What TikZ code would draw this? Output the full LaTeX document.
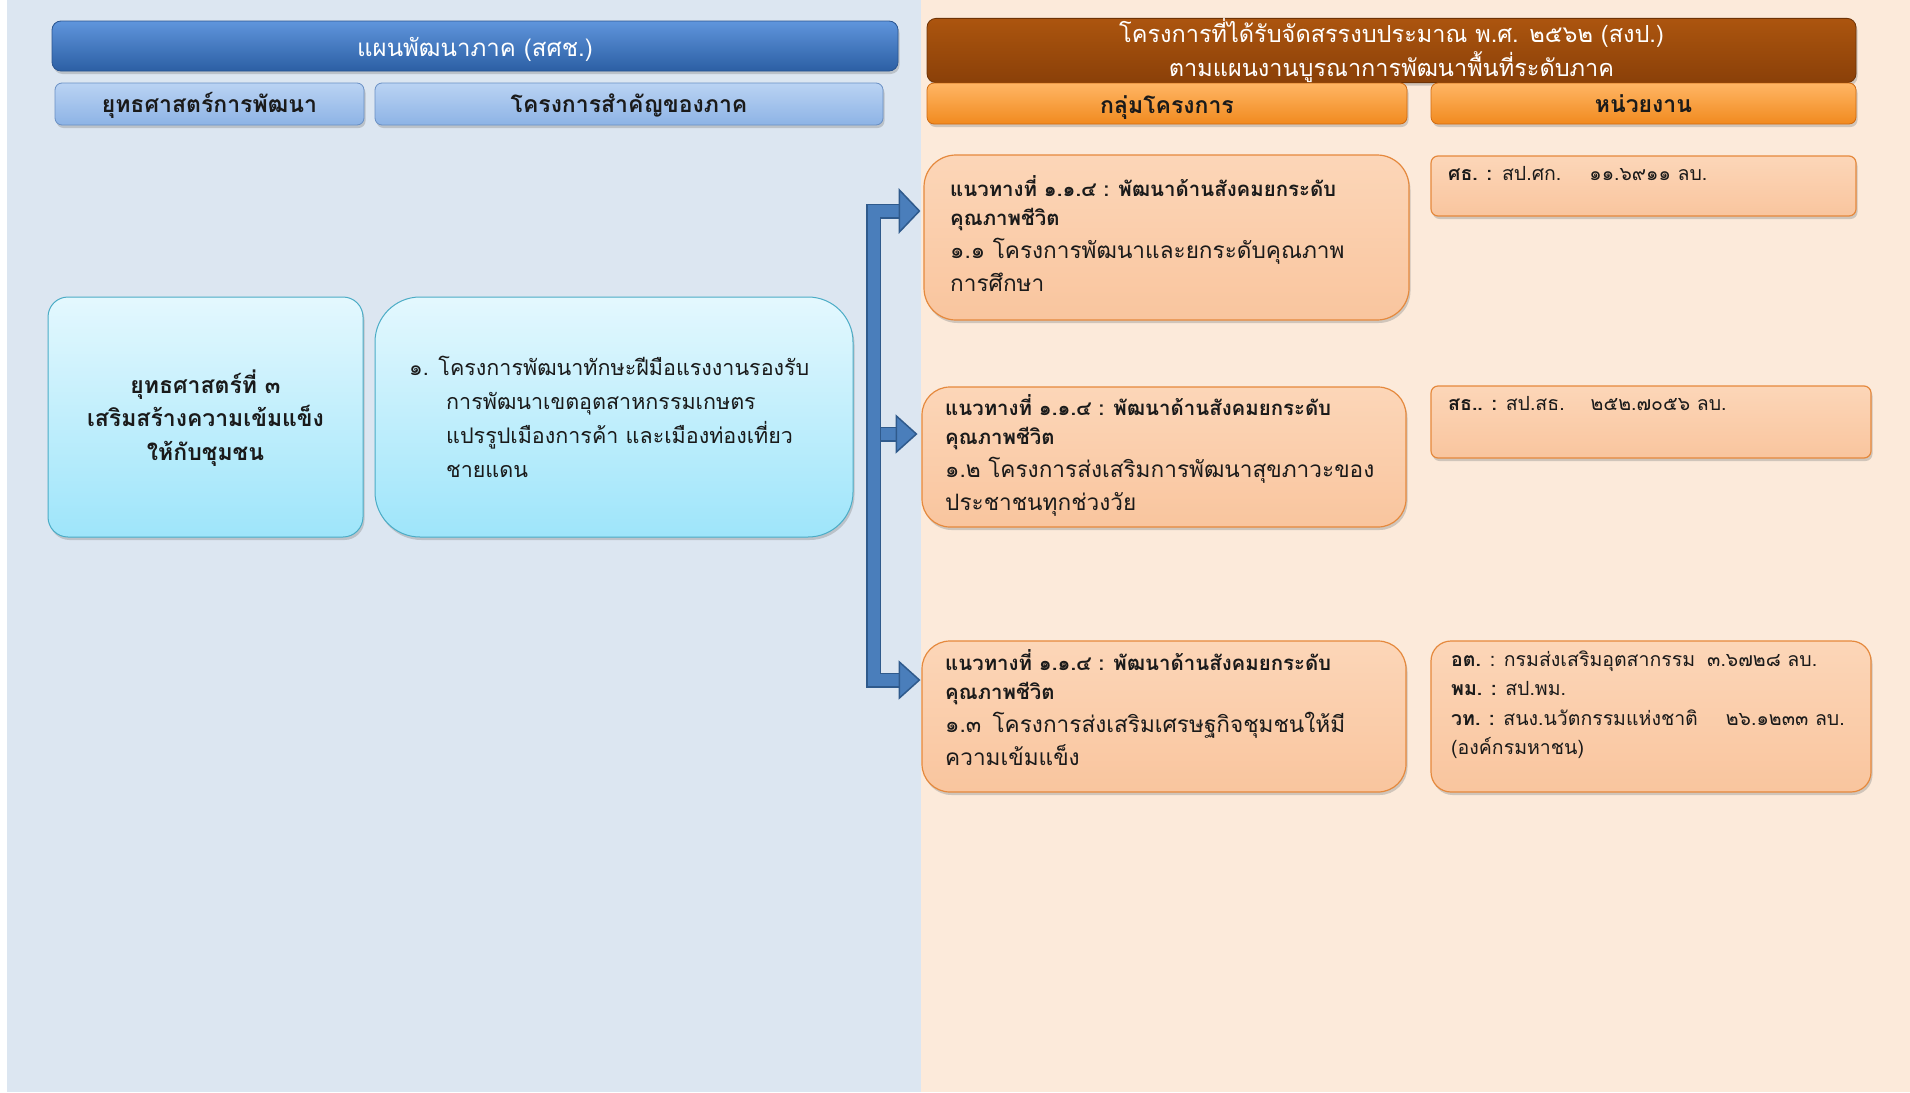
\documentclass[tikz,border=0pt]{standalone}
\usepackage{fontspec}
\setmainfont{Loma}[Script=Thai]
\usetikzlibrary{shadows,calc}
\definecolor{leftbg}{HTML}{DCE6F1}
\definecolor{rightbg}{HTML}{FCEADA}
\definecolor{hdrbluetop}{HTML}{5F95DC}
\definecolor{hdrbluebot}{HTML}{2C5FA4}
\definecolor{hdrblueline}{HTML}{2A5590}
\definecolor{subbluetop}{HTML}{BAD3F3}
\definecolor{subbluebot}{HTML}{8DB3E5}
\definecolor{subblueline}{HTML}{6A90C4}
\definecolor{cyantop}{HTML}{E4F8FE}
\definecolor{cyanbot}{HTML}{9EE5FA}
\definecolor{cyanline}{HTML}{4BACC6}
\definecolor{browntop}{HTML}{AC550F}
\definecolor{brownbot}{HTML}{8A4008}
\definecolor{brownline}{HTML}{6E3306}
\definecolor{orgtop}{HTML}{FFB665}
\definecolor{orgbot}{HTML}{F18A1F}
\definecolor{orgline}{HTML}{D06A10}
\definecolor{peachtop}{HTML}{FCD6B8}
\definecolor{peachbot}{HTML}{F9C59E}
\definecolor{peachline}{HTML}{E5893D}
\definecolor{arrowfill}{HTML}{4A7EBB}
\definecolor{arrowline}{HTML}{2F5A8C}
\definecolor{ink}{HTML}{1A1A1A}
\tikzset{
  shad/.style={drop shadow={opacity=0.35,shadow xshift=1.5pt,shadow yshift=-3pt}},
  hdrblue/.style={shad,draw=hdrblueline,line width=0.8pt,top color=hdrbluetop,bottom color=hdrbluebot,
     rounded corners=9pt,text=white,font=\fontsize{24}{28}\selectfont,inner sep=0pt},
  subblue/.style={shad,draw=subblueline,line width=0.8pt,top color=subbluetop,bottom color=subbluebot,
     rounded corners=7pt,text=ink,font=\bfseries\fontsize{23}{26}\selectfont,inner sep=0pt},
  hdrbrown/.style={shad,draw=brownline,line width=0.8pt,top color=browntop,bottom color=brownbot,
     rounded corners=9pt,text=white,font=\fontsize{23.5}{34}\selectfont,inner sep=0pt,align=center},
  suborg/.style={shad,draw=orgline,line width=0.8pt,top color=orgtop,bottom color=orgbot,
     rounded corners=7pt,text=ink,font=\bfseries\fontsize{23}{26}\selectfont,inner sep=0pt},
  cyanbox/.style={shad,draw=cyanline,line width=1pt,top color=cyantop,bottom color=cyanbot,inner sep=0pt},
  peachbox/.style={shad,draw=peachline,line width=1.2pt,top color=peachtop,bottom color=peachbot,inner sep=0pt},
  txt/.style={anchor=base west,inner sep=0pt,text=ink},
  shaft/.style={draw=arrowline,line width=1.5pt,double=arrowfill,double distance=12pt},
  head/.style={fill=arrowfill,draw=arrowline,line width=1.5pt,line join=miter},
}
\newcommand{\bodyfont}{\mdseries\fontsize{22.6}{33}\selectfont}
\newcommand{\leadfont}{\bfseries\fontsize{20.4}{29}\selectfont}
\newcommand{\unitfont}{\fontsize{19.5}{29.5}\selectfont}
\newcommand{\lowerby}[2]{\raisebox{-#1}[\height][\depth]{#2}}
\begin{document}
\begin{tikzpicture}[x=1pt,y=-1pt]
\useasboundingbox (0,0) rectangle (1910,1092);
\fill[white] (0,0) rectangle (1910,1092);
\fill[leftbg] (7,0) rectangle (921,1092);
\fill[rightbg] (921,0) rectangle (1910,1092);

% left headers
\node[hdrblue,minimum width=846pt,minimum height=50pt] (hL) at (475,46) {\lowerby{3pt}{แผนพัฒนาภาค (สศช.)}};
\node[subblue,minimum width=309pt,minimum height=42pt] (sL1) at (209.5,104) {\lowerby{1pt}{ยุทธศาสตร์การพัฒนา}};
\node[subblue,minimum width=508pt,minimum height=42pt] (sL2) at (629,104) {\lowerby{1pt}{โครงการสำคัญของภาค}};

% right headers
\node[hdrbrown,minimum width=929pt,minimum height=59pt] (hR) at (1391.5,50.5)
  {โครงการที่ได้รับจัดสรรงบประมาณ พ.ศ. ๒๕๖๒ (สงป.)\\ตามแผนงานบูรณาการพัฒนาพื้นที่ระดับภาค};
\node[suborg,minimum width=480pt,minimum height=41pt] (sR1) at (1167,103.5) {\lowerby{4pt}{กลุ่มโครงการ}};
\node[suborg,minimum width=425pt,minimum height=41pt] (sR2) at (1643.5,103.5) {หน่วยงาน};

% left boxes
\node[cyanbox,rounded corners=20pt,minimum width=315pt,minimum height=240pt] (c1) at (205.5,417) {};
\node[cyanbox,rounded corners=45pt,minimum width=478pt,minimum height=240pt] (c2) at (614,417) {};
\node[anchor=base,inner sep=0pt,text=ink] (c1t) at (205.5,393)
  {\begin{minipage}[t]{300pt}\centering\bfseries\fontsize{23}{33.5}\selectfont
   ยุทธศาสตร์ที่ ๓\\เสริมสร้างความเข้มแข็ง\\ให้กับชุมชน\end{minipage}};
\node[txt] (c2t) at (409,375)
  {\begin{minipage}[t]{440pt}\fontsize{21.5}{34}\selectfont\hangindent=37pt\hangafter=1
   ๑. โครงการพัฒนาทักษะฝีมือแรงงานรองรับ\\การพัฒนาเขตอุตสาหกรรมเกษตร\\แปรรูปเมืองการค้า และเมืองท่องเที่ยว\\ชายแดน\end{minipage}};

% right project boxes
\node[peachbox,rounded corners=32pt,minimum width=485pt,minimum height=165pt] (bA) at (1166.5,237.5) {};
\node[peachbox,rounded corners=28pt,minimum width=484pt,minimum height=140pt] (bB) at (1164,457) {};
\node[peachbox,rounded corners=28pt,minimum width=484pt,minimum height=151pt] (bC) at (1164,716.5) {};
\node[txt] (tA) at (950,196)
  {\begin{minipage}[t]{460pt}\leadfont แนวทางที่ ๑.๑.๔ : พัฒนาด้านสังคมยกระดับ\\คุณภาพชีวิต\par
   \bodyfont ๑.๑ โครงการพัฒนาและยกระดับคุณภาพ\\การศึกษา\end{minipage}};
\node[txt] (tB) at (945,415)
  {\begin{minipage}[t]{460pt}\leadfont แนวทางที่ ๑.๑.๔ : พัฒนาด้านสังคมยกระดับ\\คุณภาพชีวิต\par
   \bodyfont ๑.๒ โครงการส่งเสริมการพัฒนาสุขภาวะของ\\ประชาชนทุกช่วงวัย\end{minipage}};
\node[txt] (tC) at (945,670)
  {\begin{minipage}[t]{460pt}\leadfont แนวทางที่ ๑.๑.๔ : พัฒนาด้านสังคมยกระดับ\\คุณภาพชีวิต\par
   \bodyfont ๑.๓\enspace โครงการส่งเสริมเศรษฐกิจชุมชนให้มี\\ความเข้มแข็ง\end{minipage}};

% unit boxes
\node[peachbox,rounded corners=7pt,minimum width=425pt,minimum height=60pt] (uA) at (1643.5,186) {};
\node[peachbox,rounded corners=7pt,minimum width=440pt,minimum height=72pt] (uB) at (1651,422) {};
\node[peachbox,rounded corners=20pt,minimum width=440pt,minimum height=151pt] (uC) at (1651,716.5) {};
\node[txt,font=\unitfont] (uAt) at (1448,180) {\textbf{ศธ. :}\hspace{10pt}สป.ศก.\hspace{28pt}๑๑.๖๙๑๑ ลบ.};
\node[txt,font=\unitfont] (uBt) at (1448,410) {\textbf{สธ.. :} สป.สธ.\hspace{26pt}๒๕๒.๗๐๕๖ ลบ.};
\node[txt] (uCt) at (1451,666)
  {\begin{minipage}[t]{430pt}\unitfont \textbf{อต.} : กรมส่งเสริมอุตสากรรม\hspace{12pt}๓.๖๗๒๘ ลบ.\\
   \textbf{พม. :} สป.พม.\\
   \textbf{วท. :} สนง.นวัตกรรมแห่งชาติ\hspace{28pt}๒๖.๑๒๓๓ ลบ.\\
   (องค์กรมหาชน)\end{minipage}};

% bracket arrow
\coordinate (pA) at ($(bA.west |- 0,211)+(-4,0)$);
\coordinate (pB) at ($(bB.west |- 0,434)+(-5,0)$);
\coordinate (pC) at ($(bC.west |- 0,680)+(-2,0)$);
\coordinate (sp) at (873.5,211);
\draw[shaft] (sp |- pB) -- ($(pB)+(-18,0)$);
\draw[shaft,line join=miter] ($(pA)+(-18,0)$) -- (sp) -- (sp |- pC) -- ($(pC)+(-18,0)$);
\draw[head] (pA) -- ++(-20,-21) -- ++(0,42) -- cycle;
\draw[head] (pB) -- ++(-20,-18) -- ++(0,36) -- cycle;
\draw[head] (pC) -- ++(-20,-18) -- ++(0,36) -- cycle;
\end{tikzpicture}
\end{document}
